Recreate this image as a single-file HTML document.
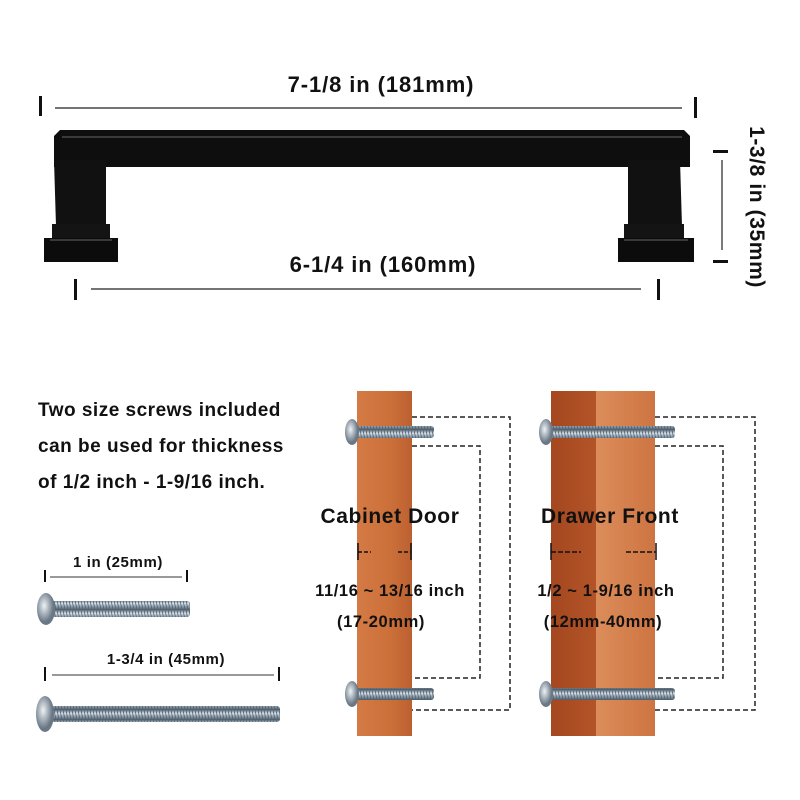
<!DOCTYPE html>
<html><head><meta charset="utf-8"><style>
html,body{margin:0;padding:0;background:#fff;}
svg{display:block;}
text{font-family:"Liberation Sans",Arial,sans-serif;font-weight:bold;fill:#111;}
</style></head><body>
<svg width="800" height="800" viewBox="0 0 800 800" xmlns="http://www.w3.org/2000/svg">
<defs>
<linearGradient id="wood1" x1="0" x2="1" y1="0" y2="0">
<stop offset="0" stop-color="#d47a44"/><stop offset="0.6" stop-color="#cc703a"/><stop offset="1" stop-color="#bb6030"/>
</linearGradient>
<linearGradient id="wood2" x1="0" x2="1"><stop offset="0" stop-color="#a5471f"/><stop offset="1" stop-color="#b35428"/></linearGradient>
<linearGradient id="wood3" x1="0" x2="1"><stop offset="0" stop-color="#dc8d5a"/><stop offset="1" stop-color="#cd7442"/></linearGradient>
<linearGradient id="metal" x1="0" x2="0" y1="0" y2="1">
<stop offset="0" stop-color="#5a6a78"/><stop offset="0.35" stop-color="#dde6ee"/><stop offset="0.6" stop-color="#94a7b6"/><stop offset="1" stop-color="#4a5866"/>
</linearGradient>
<radialGradient id="head" cx="0.4" cy="0.4"><stop offset="0" stop-color="#eef3f6"/><stop offset="1" stop-color="#6a7886"/></radialGradient>
<pattern id="thread" width="3" height="10" patternUnits="userSpaceOnUse"><rect width="3" height="10" fill="url(#metal)"/><line x1="0" y1="0" x2="2" y2="10" stroke="#55626e" stroke-width="0.8"/></pattern>
</defs>

<text x="381" y="92" font-size="22" letter-spacing="0.9" text-anchor="middle">7-1/8 in (181mm)</text>
<rect x="39" y="96" width="3" height="20" fill="#111"/>
<line x1="55" y1="108" x2="682" y2="108" stroke="#222" stroke-width="1.2"/>
<rect x="694" y="97" width="3" height="21" fill="#111"/>

<path d="M54 136 L60 130 L684 130 L690 136 L690 167 L54 167 Z" fill="#0e0e0e"/>
<line x1="62" y1="137" x2="682" y2="137" stroke="#666" stroke-width="1"/>
<path d="M54 160 H106 V226 H56 Z" fill="#111"/>
<path d="M628 160 H680 L682 226 H628 Z" fill="#111"/>
<rect x="52" y="224" width="58" height="16" fill="#141414"/>
<rect x="44" y="238" width="74" height="24" fill="#0c0c0c"/>
<line x1="50" y1="240" x2="112" y2="240" stroke="#666" stroke-width="1"/>
<rect x="624" y="224" width="60" height="16" fill="#141414"/>
<rect x="618" y="238" width="76" height="24" fill="#0c0c0c"/>
<line x1="624" y1="240" x2="688" y2="240" stroke="#666" stroke-width="1"/>

<text x="383" y="272" font-size="22" letter-spacing="0.9" text-anchor="middle">6-1/4 in (160mm)</text>
<rect x="74" y="279" width="3" height="21" fill="#111"/>
<line x1="91" y1="289" x2="641" y2="289" stroke="#222" stroke-width="1.2"/>
<rect x="657" y="279" width="3" height="21" fill="#111"/>

<rect x="713" y="150" width="15" height="3" fill="#111"/>
<line x1="722" y1="160" x2="722" y2="250" stroke="#222" stroke-width="1.2"/>
<rect x="713" y="260" width="15" height="3" fill="#111"/>
<text transform="translate(750,207) rotate(90)" font-size="21" letter-spacing="0.6" text-anchor="middle">1-3/8 in (35mm)</text>

<text x="38" y="416" font-size="19" letter-spacing="0.5">Two size screws included</text>
<text x="38" y="452" font-size="19" letter-spacing="0.5">can be used for thickness</text>
<text x="38" y="488" font-size="19" letter-spacing="0.5">of 1/2 inch - 1-9/16 inch.</text>

<text x="118" y="567" font-size="15" letter-spacing="0.6" text-anchor="middle">1 in (25mm)</text>
<rect x="44" y="570" width="2" height="12" fill="#111"/>
<line x1="50" y1="577" x2="182" y2="577" stroke="#333" stroke-width="1"/>
<rect x="186" y="570" width="2" height="12" fill="#111"/>
<rect x="50" y="601" width="140" height="16" rx="3" fill="url(#thread)"/>
<ellipse cx="46" cy="609" rx="9" ry="16" fill="url(#head)"/>

<text x="166" y="664" font-size="15" letter-spacing="0.6" text-anchor="middle">1-3/4 in (45mm)</text>
<rect x="44" y="667" width="2" height="14" fill="#111"/>
<line x1="52" y1="675" x2="274" y2="675" stroke="#333" stroke-width="1"/>
<rect x="278" y="667" width="2" height="14" fill="#111"/>
<rect x="50" y="706" width="230" height="16" rx="3" fill="url(#thread)"/>
<ellipse cx="45" cy="714" rx="9" ry="18" fill="url(#head)"/>

<rect x="357" y="391" width="55" height="345" fill="url(#wood1)"/>
<g fill="none" stroke="#222" stroke-width="1.5" stroke-dasharray="5,3">
<path d="M412 417 H510 V710 H412"/>
<path d="M412 446 H480 V678 H412"/>
<path d="M655 417 H755 V710 H655"/>
<path d="M655 446 H723 V678 H655"/>
</g>
<rect x="350" y="426" width="84" height="12" rx="3" fill="url(#thread)"/>
<ellipse cx="352" cy="432" rx="7" ry="13" fill="url(#head)"/>
<rect x="350" y="688" width="84" height="12" rx="3" fill="url(#thread)"/>
<ellipse cx="352" cy="694" rx="7" ry="13" fill="url(#head)"/>

<rect x="551" y="391" width="45" height="345" fill="url(#wood2)"/>
<rect x="596" y="391" width="59" height="345" fill="url(#wood3)"/>
<rect x="545" y="426" width="130" height="12" rx="3" fill="url(#thread)"/>
<ellipse cx="546" cy="432" rx="7" ry="13" fill="url(#head)"/>
<rect x="545" y="688" width="130" height="12" rx="3" fill="url(#thread)"/>
<ellipse cx="546" cy="694" rx="7" ry="13" fill="url(#head)"/>

<text x="390" y="523" font-size="21" letter-spacing="0.6" text-anchor="middle">Cabinet Door</text>
<g stroke="#111" stroke-width="1.5">
<line x1="358" y1="543" x2="358" y2="560"/><line x1="358" y1="552" x2="371" y2="552" stroke-dasharray="4,2"/>
<line x1="411" y1="543" x2="411" y2="560"/><line x1="398" y1="552" x2="411" y2="552" stroke-dasharray="4,2"/>
<line x1="551" y1="543" x2="551" y2="560"/><line x1="551" y1="552" x2="581" y2="552" stroke-dasharray="5,2"/>
<line x1="656" y1="543" x2="656" y2="560"/><line x1="626" y1="552" x2="656" y2="552" stroke-dasharray="5,2"/>
</g>
<text x="390" y="596" font-size="16.5" letter-spacing="0.6" text-anchor="middle">11/16 ~ 13/16 inch</text>
<text x="381" y="627" font-size="16.5" letter-spacing="0.6" text-anchor="middle">(17-20mm)</text>
<text x="610" y="523" font-size="21" letter-spacing="0.6" text-anchor="middle">Drawer Front</text>
<text x="606" y="596" font-size="16.5" letter-spacing="0.6" text-anchor="middle">1/2 ~ 1-9/16 inch</text>
<text x="603" y="627" font-size="16.5" letter-spacing="0.6" text-anchor="middle">(12mm-40mm)</text>
</svg>
</body></html>
